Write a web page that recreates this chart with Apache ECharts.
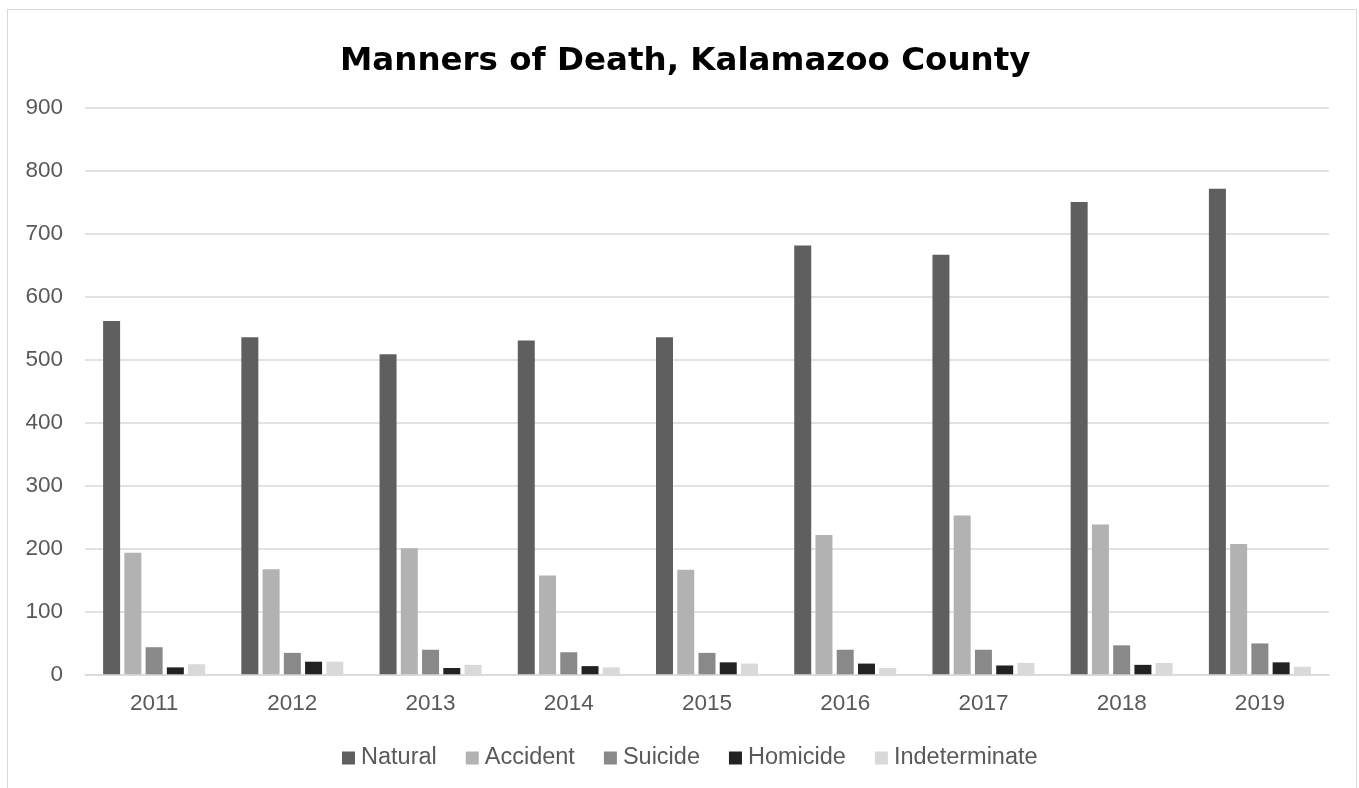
<!DOCTYPE html>
<html>
<head>
<meta charset="utf-8">
<script src="https://cdn.jsdelivr.net/npm/echarts@6/dist/echarts.min.js"></script>
<style>
  html, body { margin: 0; padding: 0; background: #fff; }
  #frame {
    position: absolute; left: 7px; top: 9px;
    width: 1348px; height: 800px;
    border: 1px solid #d9d9d9;
  }
  #main { position: absolute; left: 0; top: 0; width: 1359px; height: 788px; }
</style>
</head>
<body>
<div id="frame"></div>
<div id="main"></div>
<script>
// values
const years = ['2011', '2012', '2013', '2014', '2015', '2016', '2017', '2018', '2019'];
const natural = [561, 535, 508, 530, 535, 681, 666, 750, 771];
const accident = [193, 167, 200, 157, 166, 221, 252, 238, 207];
const suicide = [43, 34, 39, 35, 34, 39, 39, 46, 49];
const homicide = [11, 20, 10, 13, 19, 17, 14, 15, 19];
const indeterminate = [16, 20, 15, 11, 17, 10, 18, 18, 12];

const seriesNames = ['Natural', 'Accident', 'Suicide', 'Homicide', 'Indeterminate'];
const seriesData = [natural, accident, suicide, homicide, indeterminate];
const colors = ['#5f5f5f', '#b2b2b2', '#898989', '#222222', '#d9d9d9'];

const chart = echarts.init(document.getElementById('main'));

const option = {
  animation: false,
  color: colors,
  title: {
    text: 'Manners of Death, Kalamazoo County',
    left: 335,
    top: 40,
    textStyle: {
      fontFamily: 'DejaVu Sans',
      fontWeight: 'bold',
      fontSize: 32.5,
      color: '#000'
    }
  },
  legend: {
    data: seriesNames,
    left: 337,
    top: 741,
    itemWidth: 13,
    itemHeight: 13,
    itemGap: 29,
    icon: 'rect',
    textStyle: {
      fontFamily: 'Liberation Sans',
      fontSize: 23.5,
      color: '#595959',
      padding: [0, 0, 0, 1]
    }
  },
  grid: {
    left: 85,
    right: 30,
    top: 107.5,
    bottom: 113.7,
    containLabel: false
  },
  xAxis: {
    type: 'category',
    data: years,
    axisLine: { lineStyle: { color: '#d9d9d9', width: 1.5 } },
    axisTick: { show: false },
    axisLabel: {
      fontFamily: 'Liberation Sans',
      fontSize: 22.5,
      color: '#595959',
      margin: 18
    }
  },
  yAxis: {
    type: 'value',
    min: 0,
    max: 900,
    interval: 100,
    axisLine: { show: false },
    axisTick: { show: false },
    splitLine: { lineStyle: { color: '#d9d9d9', width: 1.5 } },
    axisLabel: {
      fontFamily: 'Liberation Sans',
      fontSize: 22.5,
      color: '#595959',
      margin: 22
    }
  },
  series: seriesNames.map((name, i) => ({
    name: name,
    type: 'bar',
    data: seriesData[i],
    barWidth: 17,
    barGap: '25%',
    itemStyle: { color: colors[i] }
  }))
};

chart.setOption(option);
</script>
</body>
</html>
